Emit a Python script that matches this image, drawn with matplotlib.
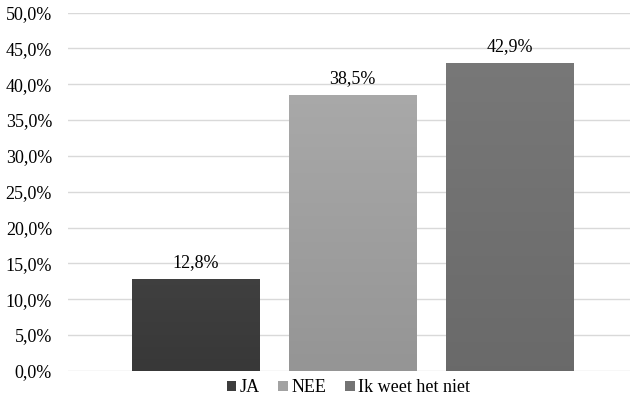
import numpy as np
import matplotlib
matplotlib.use('Agg')
import matplotlib.pyplot as plt
from matplotlib.patches import Patch

# survey answers (percent)
labels = ['JA', 'NEE', 'Ik weet het niet']
values = [12.8, 38.5, 42.9]
colors = ['#3d3d3d', '#a2a2a2', '#737373']
yticks = np.arange(0, 55, 5)

plt.rcParams['font.family'] = ['Liberation Serif', 'DejaVu Serif']
plt.rcParams['font.size'] = 13

fig = plt.figure(figsize=(6.3, 4.04), dpi=100)
ax = fig.add_axes([0.108, 0.082, 0.892, 0.887])

def shade(c, f):
    rgb = np.array(matplotlib.colors.to_rgb(c))
    return np.clip(rgb * f, 0, 1)

x = np.arange(len(values))
w = 0.81
bars = ax.bar(x, values, width=w, color=colors, zorder=2)

# soft vertical gradient inside each bar
for b, c in zip(bars, colors):
    x0, y0 = b.get_x(), b.get_y()
    x1, y1 = x0 + b.get_width(), y0 + b.get_height()
    grad = np.linspace(0, 1, 64).reshape(-1, 1)
    top, bot = shade(c, 1.04), shade(c, 0.92)
    img = bot + (top - bot) * grad[:, :, None]
    im = ax.imshow(img, extent=[x0, x1, y0, y1], origin='lower',
                   aspect='auto', zorder=3)
    im.set_clip_path(b)

for xi, v in zip(x, values):
    ax.annotate(f'{v:.1f}%'.replace('.', ','), (xi, v), xytext=(0, 6),
                textcoords='offset points', ha='center', va='bottom')

ax.set_xlim(-0.812, 2.767)
ax.set_ylim(0, 50)
ax.set_yticks(yticks)
ax.set_yticklabels([f'{t:.1f}%'.replace('.', ',') for t in yticks])
ax.set_xticks([])
ax.grid(axis='y', color='#d9d9d9', linewidth=1, zorder=0)
for s in ax.spines.values():
    s.set_visible(False)
ax.tick_params(axis='y', length=0, pad=11.5)

handles = [Patch(facecolor=c) for c in colors]
fig.legend(handles, labels, loc='center', bbox_to_anchor=(0.553, 0.04),
           ncol=3, frameon=False, handlelength=0.55, handleheight=0.55,
           handletextpad=0.2, columnspacing=1.0)

fig.savefig('out.png', dpi=100)
